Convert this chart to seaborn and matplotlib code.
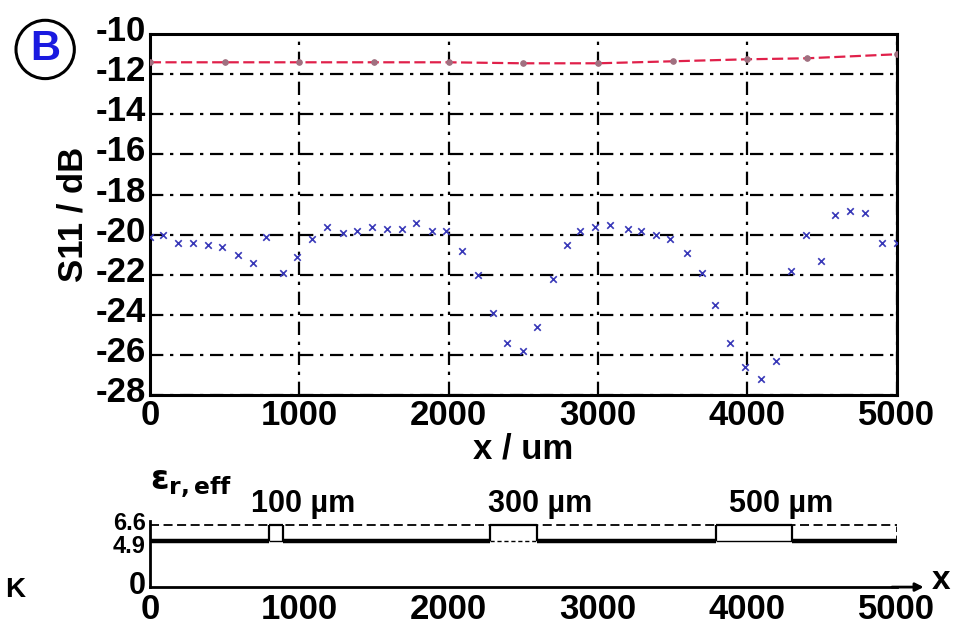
import matplotlib
matplotlib.use("Agg")
import matplotlib.pyplot as plt
import matplotlib.transforms as mtransforms
import seaborn as sns
import pandas as pd
import numpy as np

# ---------------- data ----------------
# measured S11 (blue crosses)
meas_x = [0, 87, 190, 290, 390, 480, 590, 690, 780, 890, 985, 1085, 1185, 1290, 1390,
          1490, 1590, 1690, 1785, 1890, 1985, 2090, 2195, 2295, 2390, 2495, 2590,
          2697, 2790, 2880, 2980, 3080, 3200, 3290, 3390, 3480, 3595, 3695, 3785,
          3885, 3985, 4095, 4195, 4295, 4395, 4495, 4585, 4685, 4785, 4900, 5000]
meas_s11 = [-20.1, -20.0, -20.4, -20.4, -20.5, -20.6, -21.0, -21.4, -20.1, -21.9, -21.1,
            -20.2, -19.6, -19.9, -19.8, -19.6, -19.7, -19.7, -19.4, -19.8, -19.8,
            -20.8, -22.0, -23.9, -25.4, -25.8, -24.6, -22.2, -20.5, -19.8, -19.6,
            -19.5, -19.7, -19.8, -20.0, -20.2, -20.9, -21.9, -23.5, -25.4, -26.6,
            -27.2, -26.3, -21.8, -20.0, -21.3, -19.0, -18.8, -18.9, -20.4, -20.4]

# reference S11 (red dashed line)
ref_x = [0, 500, 1000, 1500, 2000, 2500, 3000, 3500, 4000, 4400, 5000]
ref_s11 = [-11.4, -11.4, -11.4, -11.4, -11.4, -11.45, -11.45, -11.35, -11.25, -11.2, -11.0]

# effective permittivity profile (lower panel)
eps_base = 4.9
eps_high = 6.6
defect_start = [800, 2280, 3790]
defect_end = [890, 2590, 4300]
defect_labels = ["100 µm", "300 µm", "500 µm"]

y_ticks = [-10, -12, -14, -16, -18, -20, -22, -24, -26, -28]
x_ticks = [0, 1000, 2000, 3000, 4000, 5000]

# ---------------- style ----------------
sns.set_theme(style="white")
plt.rcParams["font.family"] = ["Liberation Sans", "DejaVu Sans"]
plt.rcParams["axes.unicode_minus"] = False
for k in ["text.color", "axes.labelcolor", "xtick.color", "ytick.color"]:
    plt.rcParams[k] = "black"

fig = plt.figure(figsize=(9.61, 6.34), dpi=100)
ax = fig.add_axes([0.156, 0.377, 0.777, 0.569])
ax2 = fig.add_axes([0.156, 0.074, 0.777, 0.104])

# ---------------- main panel ----------------
df_ref = pd.DataFrame({"x": ref_x, "s11": ref_s11})
df_meas = pd.DataFrame({"x": meas_x, "s11": meas_s11})

sns.lineplot(data=df_ref, x="x", y="s11", ax=ax, color="#e0204a", lw=1.6,
             linestyle=(0, (5, 2)), marker="o", markersize=4,
             markerfacecolor="#a07080", markeredgecolor="#a07080", zorder=4)
sns.scatterplot(data=df_meas, x="x", y="s11", ax=ax, marker="x", s=22,
                color="#3838b8", linewidth=1.2, zorder=5)

ax.set_xlim(0, 5000)
ax.set_ylim(-28.0, -10)
ax.set_yticks(y_ticks)
ax.set_xticks(x_ticks)
ax.set_yticklabels([str(v) for v in y_ticks])
ax.set_xticklabels([str(v) for v in x_ticks])
ax.tick_params(axis="both", direction="in", length=5, width=1.2, labelsize=25,
               pad=3, colors="black", labelcolor="black")
for lab in ax.get_yticklabels() + ax.get_xticklabels():
    lab.set_fontweight("bold")
# y labels sit slightly above their grid lines
off = mtransforms.ScaledTranslation(0, 6 / 100, fig.dpi_scale_trans)
for lab in ax.get_yticklabels():
    lab.set_transform(lab.get_transform() + off)

ax.grid(True, color="black", linestyle=(0, (6, 3, 1.5, 3)), linewidth=1.6)
for s in ax.spines.values():
    s.set_color("black")
    s.set_linewidth(2.2)
    s.set_visible(True)

ax.set_xlabel("x / um", fontsize=25, fontweight="bold", labelpad=0, color="black")
ax.set_ylabel("S11 / dB", fontsize=25, fontweight="bold", labelpad=4, color="black")

# circled B badge
fig.text(0.047, 0.922, "B", fontsize=30, fontweight="bold", color="#1a1ae0",
         ha="center", va="center",
         bbox=dict(boxstyle="circle,pad=0.22", facecolor="white",
                   edgecolor="black", linewidth=2.2))

# ---------------- lower panel ----------------
ax2.set_xlim(0, 5000)
ax2.set_ylim(0, 7.0)
# baseline segments between the defects
seg_start = [0] + defect_end
seg_end = defect_start + [5000]
ax2.hlines([eps_base] * len(seg_start), seg_start, seg_end, colors="black", lw=3.2)
# top dashed line
ax2.hlines([eps_high], 0, 5000, colors="black", lw=1.3, linestyles=(0, (5, 2.5)))
ax2.vlines([5000], eps_base, eps_high, colors="black", lw=1.3, linestyles=(0, (3, 2)))
# defect boxes
for xs, xe, lab, ls in zip(defect_start, defect_end, defect_labels,
                           ["-", (0, (3, 2)), "-"]):
    ax2.vlines([xs, xe], eps_base, eps_high, colors="black", lw=1.6)
    ax2.hlines([eps_base], xs, xe, colors="black", lw=1.0, linestyles=ls)
    ax2.hlines([eps_high], xs, xe, colors="black", lw=1.6)
    ax2.text((xs + xe) / 2 + 180, eps_high + 0.6, lab, fontsize=22,
             fontweight="bold", ha="center", va="bottom", color="black")

ax2.set_yticks([0, eps_base, eps_high])
ax2.set_yticklabels(["0", "4.9", "6.6"])
ax2.set_xticks(x_ticks)
ax2.set_xticklabels([str(v) for v in x_ticks])
ax2.tick_params(axis="x", direction="in", length=6, width=1.2, labelsize=25, pad=4,
                colors="black", labelcolor="black")
ax2.tick_params(axis="y", length=0, labelsize=17, pad=3, labelcolor="black")
for lab in ax2.get_xticklabels() + ax2.get_yticklabels():
    lab.set_fontweight("bold")
ylabs = ax2.get_yticklabels()
for lab, dy in zip(ylabs, [5, -3, 4]):
    lab.set_transform(lab.get_transform() +
                      mtransforms.ScaledTranslation(0, dy / 100, fig.dpi_scale_trans))
ylabs[0].set_fontsize(22)
for side in ["top", "right"]:
    ax2.spines[side].set_visible(False)
for side in ["left", "bottom"]:
    ax2.spines[side].set_color("black")
    ax2.spines[side].set_linewidth(2.0)
ax2.set_facecolor("none")
ax2.annotate("", xy=(1.04, 0), xytext=(0.99, 0), xycoords="axes fraction",
             arrowprops=dict(arrowstyle="-|>", color="black", lw=2.0,
                             mutation_scale=12), annotation_clip=False)
ax2.text(1.06, 0.1, "x", transform=ax2.transAxes, fontsize=24,
         fontweight="bold", ha="center", va="center")
ax2.text(0.0, 1.55, r"$\mathbf{\varepsilon}_{\mathbf{r,eff}}$", transform=ax2.transAxes,
         fontsize=24, ha="left", va="center")
fig.text(0.016, 0.07, "K", fontsize=20, fontweight="bold", ha="center", va="center")

fig.savefig("out.png", dpi=100, facecolor="white")
